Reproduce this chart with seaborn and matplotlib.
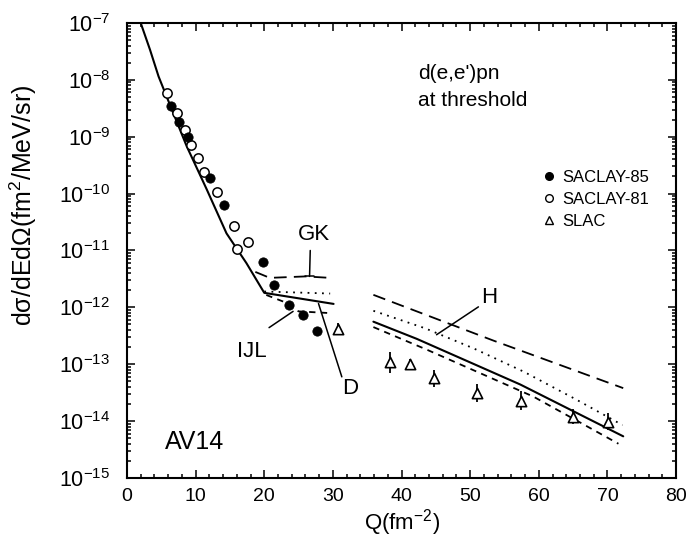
import numpy as np
import pandas as pd
import matplotlib
matplotlib.use("Agg")
import matplotlib.pyplot as plt
from matplotlib.lines import Line2D
from matplotlib.ticker import FixedLocator, LogLocator, MultipleLocator, NullFormatter
import seaborn as sns

sns.set_style("ticks")
plt.rcParams['font.family'] = ['Liberation Sans', 'DejaVu Sans']
plt.rcParams['mathtext.default'] = 'regular'
for key in ['text.color', 'axes.labelcolor', 'xtick.color', 'ytick.color',
            'axes.edgecolor']:
    plt.rcParams[key] = 'black'

# ------------------------------
# Data
# ------------------------------
# SACLAY-85 (filled circles)
q_s85 = [6.4, 7.6, 8.85, 12.1, 14.2, 19.8, 21.4, 23.6, 25.7, 27.65]
s_s85 = [3.5e-9, 1.84e-9, 1.0e-9, 1.9e-10, 6.2e-11, 6.2e-12, 2.5e-12, 1.1e-12, 7.4e-13, 3.9e-13]

# SACLAY-81 (open circles)
q_s81 = [5.8, 7.35, 8.45, 9.3, 10.3, 11.2, 13.1, 15.6, 16.0, 17.6]
s_s81 = [5.8e-9, 2.6e-9, 1.3e-9, 7.2e-10, 4.2e-10, 2.4e-10, 1.08e-10, 2.7e-11, 1.05e-11, 1.4e-11]

# SLAC (open triangles) with error half-widths in decades
q_slac = [30.8, 38.3, 41.25, 44.75, 51.0, 57.4, 65.0, 70.1]
s_slac = [4.2e-13, 1.08e-13, 1.0e-13, 5.7e-14, 3.1e-14, 2.3e-14, 1.2e-14, 9.8e-15]
e_slac = [0.10, 0.19, 0.10, 0.15, 0.16, 0.16, 0.13, 0.15]

# theory curves, low-Q part
q_main = [2.0, 3.35, 4.6, 5.8, 8.7, 11.6, 14.5, 17.4, 20.0, 30.1]
s_main = [1.0e-7, 3.4e-8, 1.15e-8, 5.0e-9, 6.8e-10, 1.2e-10, 2.0e-11, 6.0e-12, 1.8e-12, 1.15e-12]

q_gk = [18.7, 20.8, 26.0, 29.6]
s_gk = [4.2e-12, 3.3e-12, 3.5e-12, 3.3e-12]

q_dot_lo = [20.0, 29.6]
s_dot_lo = [1.9e-12, 1.75e-12]

q_ijl = [20.3, 22.8, 25.0, 29.8]
s_ijl = [1.65e-12, 1.26e-12, 8.5e-13, 7.9e-13]

# theory curves, high-Q part
q_long = [35.9, 53.4, 72.3]
s_long = [1.66e-12, 2.6e-13, 3.8e-14]

q_dot_hi = [35.9, 43.4, 50.5, 57.8, 65.3, 72.2]
s_dot_hi = [8.7e-13, 4.3e-13, 1.9e-13, 7.4e-14, 2.45e-14, 8.5e-15]

q_sol_hi = [35.9, 42.2, 57.3, 72.3]
s_sol_hi = [5.6e-13, 2.8e-13, 4.4e-14, 5.4e-15]

q_sd_hi = [35.9, 43.7, 59.2, 71.6]
s_sd_hi = [4.5e-13, 1.8e-13, 2.7e-14, 4.0e-15]

y_decades = [1e-15, 1e-14, 1e-13, 1e-12, 1e-11, 1e-10, 1e-9, 1e-8, 1e-7]

# ------------------------------
# Figure
# ------------------------------
fig = plt.figure(figsize=(6.92, 5.41), dpi=100)
ax = fig.add_axes([0.1835, 0.1165, 0.7935, 0.841])

LONG = (0, (7, 4))
SHORT = (0, (3.5, 3))
DOTS = (0, (1, 3))

def curve(q, s, ls, lw=1.3):
    sns.lineplot(x=q, y=s, ax=ax, color="black", linestyle=ls, linewidth=lw,
                 sort=False, estimator=None)

curve(q_main, s_main, "-", 1.5)
curve(q_gk, s_gk, LONG)
curve(q_dot_lo, s_dot_lo, DOTS)
curve(q_ijl, s_ijl, SHORT)
curve(q_long, s_long, LONG)
curve(q_dot_hi, s_dot_hi, DOTS)
curve(q_sol_hi, s_sol_hi, "-", 1.5)
curve(q_sd_hi, s_sd_hi, SHORT)

sns.scatterplot(x=q_s81, y=s_s81, ax=ax, marker="o", s=45, facecolor="white",
                edgecolor="black", linewidth=1.1, zorder=5)
sns.scatterplot(x=q_s85, y=s_s85, ax=ax, marker="o", s=45, color="black",
                edgecolor="black", zorder=6)

s_slac_a = np.array(s_slac)
e_a = np.array(e_slac)
yerr = [s_slac_a - s_slac_a * 10 ** (-e_a), s_slac_a * 10 ** e_a - s_slac_a]
ax.errorbar(q_slac, s_slac, yerr=yerr, fmt="none", ecolor="black",
            elinewidth=1.3, capsize=0, zorder=4)
sns.scatterplot(x=q_slac, y=s_slac, ax=ax, marker="^", s=55, facecolor="white",
                edgecolor="black", linewidth=1.2, zorder=5)

ax.set_yscale("log")
ax.set_xlim(0, 80)
ax.set_ylim(1e-15, 1e-7)
ax.xaxis.set_major_locator(MultipleLocator(10))
ax.xaxis.set_minor_locator(MultipleLocator(2))
ax.yaxis.set_major_locator(FixedLocator(y_decades))
ax.yaxis.set_minor_locator(LogLocator(base=10, subs=np.arange(2, 10), numticks=20))
ax.yaxis.set_minor_formatter(NullFormatter())
ax.tick_params(which="both", direction="in", top=True, right=True, width=1.1)
ax.tick_params(which="major", length=6)
ax.tick_params(which="minor", length=3)
ax.tick_params(axis="x", labelsize=14, pad=7)
ax.tick_params(axis="y", labelsize=15.5, pad=12)
for sp in ax.spines.values():
    sp.set_linewidth(1.5)

ax.set_xlabel("Q(fm$^{-2}$)", fontsize=16, labelpad=2)
ax.set_ylabel("d\u03c3/dEd\u03a9(fm$^{2}$/MeV/sr)", fontsize=18)
ax.yaxis.set_label_coords(-0.16, 0.6)

# annotations
ax.text(0.53, 0.89, "d(e,e')pn", transform=ax.transAxes, fontsize=15,
        ha="left", va="center")
ax.text(0.53, 0.83, "at threshold", transform=ax.transAxes, fontsize=15,
        ha="left", va="center")
ax.text(0.07, 0.08, "AV14", transform=ax.transAxes, fontsize=18,
        ha="left", va="center")

ax.text(27.2, 1.9e-11, "GK", fontsize=16, ha="center", va="center")
ax.plot([26.7, 26.6], [1.0e-11, 3.5e-12], color="black", lw=1.1)
ax.plot([25.9, 27.3], [3.5e-12, 3.5e-12], color="black", lw=1.1)
ax.text(52.7, 1.5e-12, "H", fontsize=16, ha="center", va="center")
ax.plot([51.2, 45.1], [1.02e-12, 3.3e-13], color="black", lw=1.1)
ax.text(18.2, 1.7e-13, "IJL", fontsize=16, ha="center", va="center")
ax.plot([20.7, 24.2], [4.4e-13, 8.5e-13], color="black", lw=1.1)
ax.text(32.5, 3.8e-14, "D", fontsize=16, ha="center", va="center")
ax.plot([27.9, 31.3], [1.17e-12, 6.0e-14], color="black", lw=1.1)

handles = [
    Line2D([], [], marker="o", ls="none", color="black", markersize=5.5),
    Line2D([], [], marker="o", ls="none", markerfacecolor="white",
           markeredgecolor="black", markersize=5.5),
    Line2D([], [], marker="^", ls="none", markerfacecolor="white",
           markeredgecolor="black", markersize=5.5),
]
ax.legend(handles, ["SACLAY-85", "SACLAY-81", "SLAC"], loc="upper left",
          bbox_to_anchor=(0.735, 0.702), frameon=False, fontsize=12,
          handlelength=0.8, handletextpad=0.4, labelspacing=0.42,
          borderpad=0.2)

fig.savefig("out.png", dpi=100)
